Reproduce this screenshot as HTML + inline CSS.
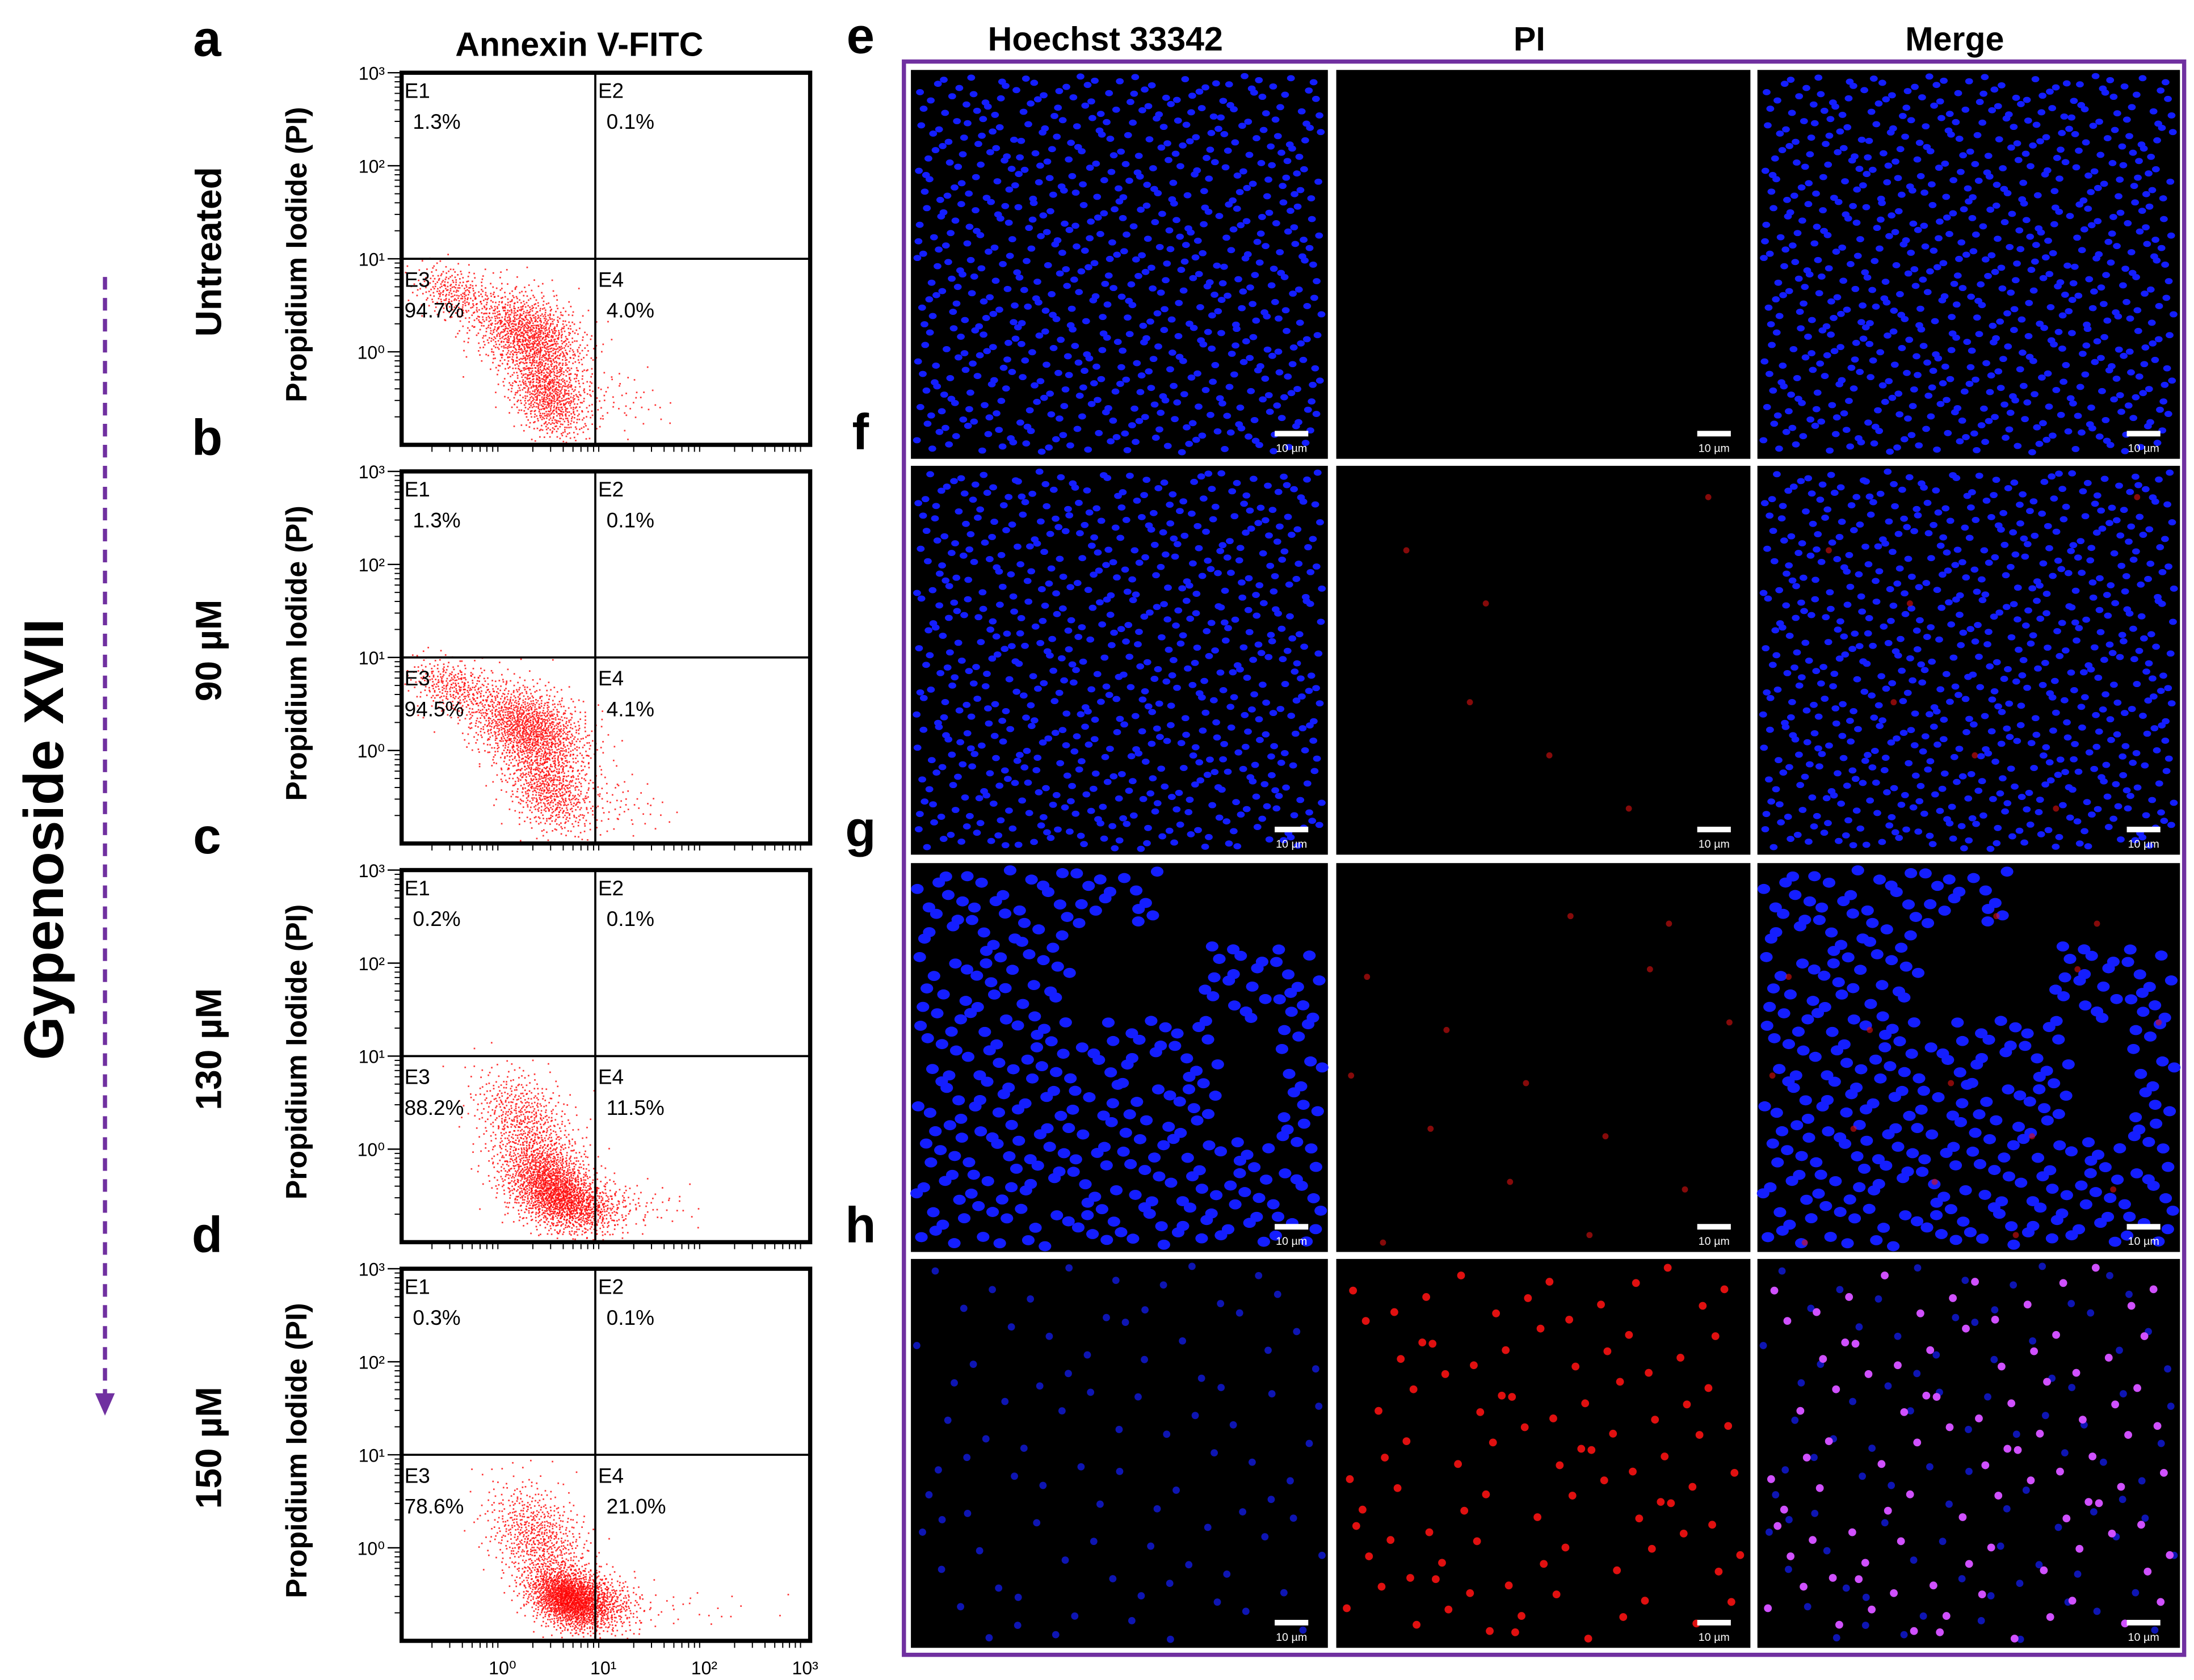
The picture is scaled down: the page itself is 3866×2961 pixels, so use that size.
<!DOCTYPE html>
<html><head><meta charset="utf-8"><style>
html,body{margin:0;padding:0;background:#fff;}
svg{display:block;}
text{font-family:"Liberation Sans",Arial,sans-serif;}
</style></head><body>
<svg id="fig" width="3866" height="2961" viewBox="0 0 1568 1201" xmlns="http://www.w3.org/2000/svg">
<rect x="0" y="0" width="1568" height="1201" fill="#fff"/>
<text x="414" y="40" font-size="24" font-weight="bold" text-anchor="middle">Annexin V-FITC</text>
<text x="790" y="36" font-size="24" font-weight="bold" text-anchor="middle">Hoechst 33342</text>
<text x="1093" y="36" font-size="24" font-weight="bold" text-anchor="middle">PI</text>
<text x="1397" y="36" font-size="24" font-weight="bold" text-anchor="middle">Merge</text>
<text transform="translate(45,600) rotate(-90)" font-size="40" font-weight="bold" text-anchor="middle">Gypenoside XVII</text>
<line x1="75" y1="198" x2="75" y2="998" stroke="#7030a0" stroke-width="3" stroke-dasharray="9,6"/>
<polygon points="68,996 82,996 75,1012" fill="#7030a0"/>
<rect x="646" y="44" width="915" height="1139" fill="none" stroke="#7030a0" stroke-width="3"/>
<g id="flow"></g>
<g id="imgs"></g>
</svg>
<script>
const panelLetters = ['a','b','c','d'];
const imageLetters = ['e','f','g','h'];
const rowLabels = ['Untreated','90 µM','130 µM','150 µM'];
const pctE1 = ['1.3%','1.3%','0.2%','0.3%'];
const pctE2 = ['0.1%','0.1%','0.1%','0.1%'];
const pctE3 = ['94.7%','94.5%','88.2%','78.6%'];
const pctE4 = ['4.0%','4.1%','11.5%','21.0%'];
const yTickLabels = ['10⁰','10¹','10²','10³'];
const yTickValues = [0,1,2,3];
const xTickLabels = ['10⁰','10¹','10²','10³'];
const xTickValues = [0,1,2,3];
const gateX = 0.92; const gateY = 1;
// clusters per panel: [log10 x center, log10 y center, sd x, sd y, count]
const clustersA = [[-0.5,0.65,0.2,0.18,260],[0.25,0.2,0.28,0.28,1100],[0.45,-0.45,0.2,0.3,800],[1.1,-0.5,0.3,0.2,60]];
const clustersB = [[-0.5,0.7,0.22,0.18,300],[0.25,0.25,0.3,0.28,1300],[0.45,-0.4,0.22,0.3,700],[1.1,-0.55,0.3,0.2,70]];
const clustersC = [[0.2,0.35,0.25,0.3,500],[0.45,-0.35,0.25,0.3,1400],[0.7,-0.6,0.25,0.18,600],[1.2,-0.55,0.35,0.15,90]];
const clustersD = [[0.35,0.1,0.25,0.35,700],[0.65,-0.55,0.2,0.2,1500],[0.95,-0.55,0.22,0.2,400],[1.6,-0.6,0.5,0.15,40]];
const allClusters = [clustersA,clustersB,clustersC,clustersD];
// image rows: [blue nuclei count, red nuclei count, blue brightness]
const nucleiBlue = [700, 680, 420, 90];
const nucleiRed = [0, 6, 14, 95];
const blueLevel = [1, 1, 1, 0.7];

const NS='http://www.w3.org/2000/svg';
function mk(tag, attrs, parent){const e=document.createElementNS(NS,tag);for(const k in attrs)e.setAttribute(k,attrs[k]);parent.appendChild(e);return e;}
function halton(i,b){let f=1,r=0;while(i>0){f/=b;r+=f*(i%b);i=Math.floor(i/b);}return r;}
const flow=document.getElementById('flow');
const imgs=document.getElementById('imgs');
const boxL=287, boxR=579, boxH=266;
const tops=[52,337,622,907];
const imgTops=[50,333,617,900];
const cols=[651,955,1256]; const colW=[298,296,302]; const imgH=278;
let hi=1;
for(let p=0;p<4;p++){
  const top=tops[p], bot=top+boxH;
  const xs=v=>boxL+(v+1)*(boxR-boxL)/4.05;
  const ys=v=>bot-(v+1)*boxH/4;
  let t;
  t=mk('text',{x:148,y:top-12,'font-size':36,'font-weight':'bold','text-anchor':'middle'},flow);t.textContent=panelLetters[p];
  
  
  t=mk('text',{transform:`translate(158,${top+128}) rotate(-90)`,'font-size':26,'font-weight':'bold','text-anchor':'middle'},flow);t.textContent=rowLabels[p];
  
  
  t=mk('text',{transform:`translate(219,${top+130}) rotate(-90)`,'font-size':21,'font-weight':'bold','text-anchor':'middle'},flow);t.textContent='Propidium Iodide (PI)';
  
  
  const g=mk('g',{fill:'#ff0000'},flow);
  
  
  for(const c of allClusters[p]){
    for(let i=0;i<c[4];i++){
      const u1=halton(hi,2)*0.999+0.0005,u2=halton(hi,3);hi++;
      const r=Math.sqrt(-2*Math.log(u1));
      const gx=r*Math.cos(2*Math.PI*u2),gy=r*Math.sin(2*Math.PI*u2);
      const vx=c[0]+c[2]*gx, vy=c[1]+c[3]*(0.8*gy-0.3*gx);
      const px=xs(vx),py=ys(vy);
      if(px<boxL+2||px>boxR-2||py<top+2||py>bot-2)continue;
      mk('rect',{x:px.toFixed(1),y:py.toFixed(1),width:1.1,height:1.1,opacity:0.8},g);
    }
  }
  const box=mk('rect',{x:boxL,y:top,width:boxR-boxL,height:boxH,fill:'none',stroke:'#000','stroke-width':3},flow);
  
  
  mk('line',{x1:xs(gateX),x2:xs(gateX),y1:top,y2:bot,stroke:'#000','stroke-width':1.5},flow);
  mk('line',{x1:boxL,x2:boxR,y1:ys(gateY),y2:ys(gateY),stroke:'#000','stroke-width':1.5},flow);
  const q=[['E1',pctE1[p],boxL+2,top+18],['E2',pctE2[p],xs(gateX)+2,top+18],['E3',pctE3[p],boxL+2,ys(gateY)+20],['E4',pctE4[p],xs(gateX)+2,ys(gateY)+20]];
  for(const [n,v,x,y] of q){
    t=mk('text',{x:x,y:y,'font-size':15},flow);t.textContent=n;
    
    
    t=mk('text',{x:x+(n==='E3'?0:6),y:y+22,'font-size':15},flow);t.textContent=v;
    
    
  }
  for(let k=0;k<yTickValues.length;k++){
    const y=ys(yTickValues[k]);
    mk('line',{x1:boxL-10,x2:boxL,y1:y,y2:y,stroke:'#000','stroke-width':1},flow);
    t=mk('text',{x:boxL-12,y:y+5,'font-size':13,'text-anchor':'end'},flow);t.textContent=yTickLabels[k];
    
    
  }
  for(let d=-1;d<3;d++)for(let m=2;m<10;m++){const y=ys(d+Math.log10(m));mk('line',{x1:boxL-5,x2:boxL,y1:y,y2:y,stroke:'#000','stroke-width':0.8},flow);}
  for(let d=-1;d<3;d++)for(let m=2;m<10;m++){const x=xs(d+Math.log10(m));mk('line',{x1:x,x2:x,y1:bot,y2:bot+5,stroke:'#000','stroke-width':0.8},flow);}
  if(p===3){
    for(let k=0;k<xTickValues.length;k++){
      const x=xs(xTickValues[k]);
      t=mk('text',{x:x,y:bot+24,'font-size':13,'text-anchor':'middle'},flow);t.textContent=xTickLabels[k];
      
      
    }
  }
  const it=imgTops[p];
  t=mk('text',{x:615,y:it-12,'font-size':36,'font-weight':'bold','text-anchor':'middle'},imgs);t.textContent=imageLetters[p];
  
  
  for(let c=0;c<3;c++){
    const x0=cols[c],w=colW[c];
    const r=mk('rect',{x:x0,y:it,width:w,height:imgH,fill:'#000'},imgs);
    
    
    const gg=mk('g',{},imgs);
    const bl=blueLevel[p];
    if(c!==1){
      for(let i=0;i<nucleiBlue[p];i++){
        const u=halton(i+1+p*997,2),v=halton(i+1+p*997,3);
        let cx=x0+4+u*(w-8),cy=it+4+v*(imgH-8);
        if(p===2&&((u>0.38&&u<0.7&&v>0.15&&v<0.4)||(u>0.6&&v<0.2)||(u>0.75&&v>0.4&&v<0.7&&u<0.9)))continue;
        const rx=p===2?4.5:(p===3?2.6:2.8), ry=p===2?3.6:(p===3?2.6:2.2);
        mk('ellipse',{cx:cx.toFixed(1),cy:cy.toFixed(1),rx:rx,ry:ry,fill:`rgb(${Math.round(20*bl)},${Math.round(30*bl)},${Math.round(255*bl)})`},gg);
      }
    }
    if(c!==0){
      for(let i=0;i<nucleiRed[p];i++){
        const u=halton(i+50+p*311,5),v=halton(i+50+p*311,7);
        const cx=x0+6+u*(w-12),cy=it+6+v*(imgH-12);
        mk('circle',{cx:cx.toFixed(1),cy:cy.toFixed(1),r:p===3?2.8:2.2,fill:c===2&&p===3?'#d050ff':'#e01010',opacity:p===3?1:0.6},gg);
      }
    }
    mk('rect',{x:x0+w-38,y:it+imgH-20,width:24,height:4,fill:'#fff'},imgs);
    t=mk('text',{x:x0+w-26,y:it+imgH-5,'font-size':8,fill:'#fff','text-anchor':'middle'},imgs);t.textContent='10 µm';
    
    
  }
}
</script>
</body></html>
